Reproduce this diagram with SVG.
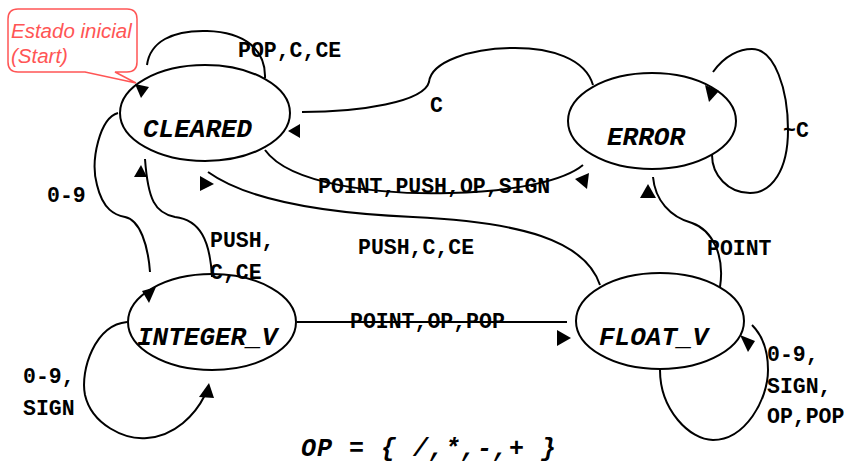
<svg xmlns="http://www.w3.org/2000/svg" width="846" height="466" viewBox="0 0 846 466">
<style>
.st{fill:none;stroke:#000;stroke-width:2}
.sn{font-family:"Liberation Mono","Courier New",monospace;font-weight:bold;font-style:italic;font-size:26px;fill:#000}
.lb{font-family:"Liberation Mono","Courier New",monospace;font-weight:bold;font-size:21.5px;fill:#000}
.ed{fill:none;stroke:#000;stroke-width:2}
.ah{fill:#000;stroke:none}
.co{font-family:"Liberation Sans",Arial,sans-serif;font-style:italic;font-size:20.5px;fill:#f55}
</style>
<rect width="846" height="466" fill="#fff"/>
<g id="CLEARED">
  <ellipse class="st" cx="205" cy="113" rx="85" ry="48"/>
  <text class="sn" x="143" y="137">CLEARED</text>
</g>
<g id="ERROR">
  <ellipse class="st" cx="652" cy="121" rx="84" ry="48"/>
  <text class="sn" x="607" y="145">ERROR</text>
</g>
<g id="INTEGER_V">
  <ellipse class="st" cx="212" cy="322" rx="84" ry="48"/>
  <text class="sn" x="137" y="345">INTEGER_V</text>
</g>
<g id="FLOAT_V">
  <ellipse class="st" cx="660" cy="321" rx="84" ry="48"/>
  <text class="sn" x="599" y="345">FLOAT_V</text>
</g>
<g id="connectors">
  <path class="ed" d="M147,65 C150,42 172,30 207,31 C245,32 266,50 265,78"/>
  <polygon class="ah" points="135,84 149,87 141,98"/>
  <path class="ed" d="M593,85 C585,58 550,48 515,48 C470,48 431,62 429,82 C424,102 360,112 302,112"/>
  <polygon class="ah" points="288,131 300,124 300,138"/>
  <path class="ed" d="M265,150 C290,185 380,195 450,193 C520,191 565,180 583,165"/>
  <polygon class="ah" points="575,179 589,173 587,189"/>
  <path class="ed" d="M208,172 C240,195 300,212 413,217 C520,222 585,240 600,285"/>
  <polygon class="ah" points="200,176 214,184 200,191"/>
  <path class="ed" d="M118,113 C100,118 90,160 97,185 C103,210 115,215 125,217 C140,220 148,245 150,272"/>
  <polygon class="ah" points="142,291 156,287 149,303"/>
  <path class="ed" d="M212,277 C210,240 200,220 175,217 C155,213 148,200 145,159"/>
  <polygon class="ah" points="141,165 134,177 147,177"/>
  <path class="ed" d="M127,322 C95,325 80,370 85,395 C92,425 125,440 147,438 C175,436 195,415 205,395"/>
  <polygon class="ah" points="209,383 199,397 214,398"/>
  <path class="ed" d="M297,322 L567,322"/>
  <polygon class="ah" points="557,330 571,338 557,346"/>
  <path class="ed" d="M720,287 C725,255 712,230 692,223 C670,217 655,200 653,177"/>
  <polygon class="ah" points="648,184 640,198 656,198"/>
  <path class="ed" d="M713,72 C725,55 740,49 752,49 C775,49 788,90 788,130 C788,170 772,193 750,193 C728,193 712,175 712,155"/>
  <polygon class="ah" points="705,85 719,91 709,102"/>
  <path class="ed" d="M660,370 C660,410 690,440 713,440 C745,440 768,400 768,370 C768,350 762,335 752,325"/>
  <polygon class="ah" points="740,335 755,341 748,352"/>
</g>
<g id="labels">
  <text class="lb" x="238" y="57">POP,C,CE</text>
  <text class="lb" x="430" y="112">C</text>
  <text class="lb" x="318" y="193">POINT,PUSH,OP,SIGN</text>
  <text class="lb" x="783" y="137">~C</text>
  <text class="lb" x="47" y="202">0-9</text>
  <text class="lb" x="210" y="247">PUSH,</text>
  <text class="lb" x="210" y="279">C,CE</text>
  <text class="lb" x="358" y="254">PUSH,C,CE</text>
  <text class="lb" x="350" y="328">POINT,OP,POP</text>
  <text class="lb" x="707" y="255">POINT</text>
  <text class="lb" x="23" y="383">0-9,</text>
  <text class="lb" x="23" y="415">SIGN</text>
  <text class="lb" x="767" y="361">0-9,</text>
  <text class="lb" x="767" y="393">SIGN,</text>
  <text class="lb" x="767" y="423">OP,POP</text>
  <text class="sn" x="301" y="456" style="font-size:25px;letter-spacing:1px" xml:space="preserve">OP = { /,*,-,+ }</text>
</g>
<g id="callout">
  <path d="M18,9 L127,9 Q137,9 137,19 L137,62 Q137,72 127,72 L115,72 L136,83 L85,72 L18,72 Q8,72 8,62 L8,19 Q8,9 18,9 Z" fill="#fff" stroke="#f55" stroke-width="1.5"/>
  <text class="co" x="11" y="38">Estado inicial</text>
  <text class="co" x="11" y="63">(Start)</text>
</g>
</svg>
